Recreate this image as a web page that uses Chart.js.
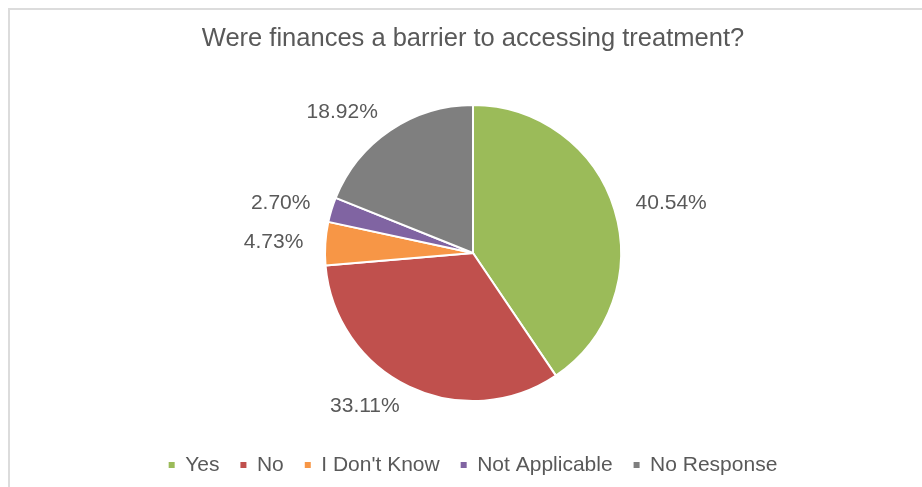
<!DOCTYPE html>
<html>
<head>
<meta charset="utf-8">
<script src="https://cdn.jsdelivr.net/npm/chart.js@4.4.1/dist/chart.umd.min.js"></script>
<style>
html, body { margin: 0; padding: 0; background: #ffffff; }
#wrap { position: relative; width: 922px; height: 487px; }
#frame { position: absolute; left: 8px; top: 8px; right: 0; bottom: 0; border-top: 2px solid #dcdcdc; border-left: 2px solid #dcdcdc; pointer-events: none; }
</style>
</head>
<body>
<div id="wrap">
<canvas id="graph1"></canvas>
<div id="frame"></div>
</div>
<script>
var categories = ['Yes', 'No', "I Don't Know", 'Not Applicable', 'No Response'];
var percentages = [40.54, 33.11, 4.73, 2.70, 18.92];
var colors = ['#9BBB59', '#C0504D', '#F79646', '#8064A2', '#7F7F7F'];

Chart.defaults.font.family = "'Liberation Sans', Arial, sans-serif";
Chart.defaults.color = '#595959';

// labels outside each slice, like excel "outside end"
var outsideLabels = {
    id: 'outsideLabels',
    afterDatasetsDraw: function(chart) {
        var ctx = chart.ctx;
        var meta = chart.getDatasetMeta(0);
        ctx.save();
        ctx.font = "21px 'Liberation Sans', Arial, sans-serif";
        ctx.fillStyle = '#595959';
        ctx.textBaseline = 'middle';
        meta.data.forEach(function(arc, i) {
            var p = arc.getProps(['x', 'y', 'startAngle', 'endAngle', 'outerRadius'], true);
            var mid = (p.startAngle + p.endAngle) / 2;
            var r = p.outerRadius + 22;
            var x = p.x + Math.cos(mid) * r;
            var y = p.y + Math.sin(mid) * r;
            ctx.textAlign = Math.cos(mid) >= 0 ? 'left' : 'right';
            ctx.fillText(percentages[i].toFixed(2) + '%', x, y);
        });
        ctx.restore();
    }
};

var baseLabels = Chart.overrides.doughnut.plugins.legend.labels.generateLabels;

var ctx = document.getElementById('graph1').getContext('2d');
var graph1 = new Chart(ctx, {
    type: 'pie',
    data: {
        labels: categories,
        datasets: [{
            data: percentages,
            backgroundColor: colors,
            borderColor: '#ffffff',
            borderWidth: 2,
            radius: 148
        }]
    },
    options: {
        responsive: true,
        maintainAspectRatio: false,
        animation: false,
        layout: {
            padding: { top: 14, left: 24, right: 0, bottom: 1.5 }
        },
        plugins: {
            title: {
                display: true,
                text: 'Were finances a barrier to accessing treatment?',
                color: '#595959',
                font: { size: 25.5, weight: 'normal' },
                padding: { top: 10, bottom: 18 }
            },
            legend: {
                position: 'bottom',
                labels: {
                    boxWidth: 6,
                    boxHeight: 6,
                    padding: 21,
                    color: '#595959',
                    font: { size: 21 },
                    generateLabels: function(chart) {
                        var items = baseLabels(chart);
                        items.forEach(function(it) { it.lineWidth = 0; });
                        return items;
                    }
                }
            },
            tooltip: { enabled: false }
        }
    },
    plugins: [outsideLabels]
});
</script>
</body>
</html>
